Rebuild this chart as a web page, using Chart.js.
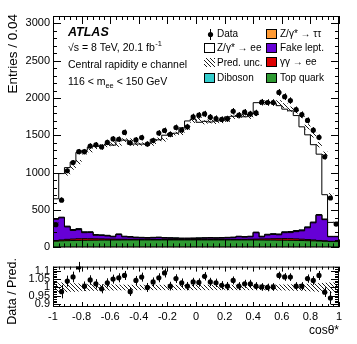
<!DOCTYPE html>
<html lang="en">
<head>
<meta charset="UTF-8">
<title>cos theta* - central electrons</title>
<script src="https://cdn.jsdelivr.net/npm/chart.js"></script>
<style>
  body { margin: 0; background: #fff; }
  #wrap { position: relative; width: 357px; height: 344px; }
  #mainBox { position: absolute; left: 0; top: 0; width: 357px; height: 257px; }
  #ratioBox { position: absolute; left: 0; top: 257px; width: 357px; height: 87px; }
</style>
</head>
<body>
<div id="wrap">
  <div id="mainBox"><canvas id="mainChart"></canvas></div>
  <div id="ratioBox"><canvas id="ratioChart"></canvas></div>
</div>
<script>
// binning in cos(theta*)
const binLow = -1;
const binWidth = 0.04;

// observed events per bin
const dataCounts = [305, 632, 1027, 1136, 1283, 1283, 1358, 1375, 1345, 1406,
  1453, 1449, 1540, 1401, 1440, 1471, 1385, 1432, 1532, 1566,
  1515, 1606, 1573, 1615, 1750, 1771, 1788, 1745, 1727, 1714,
  1723, 1824, 1771, 1811, 1788, 1802, 1945, 1941, 1941, 2076,
  2019, 1967, 1845, 1780, 1701, 1571, 1475, 1214, 662, 313];
const dataErr = [17, 25, 32, 34, 36, 36, 37, 37, 37, 37,
  38, 38, 39, 37, 38, 38, 37, 38, 39, 40,
  39, 40, 40, 40, 42, 42, 42, 42, 42, 41,
  41, 43, 42, 43, 42, 42, 44, 44, 44, 46,
  45, 44, 43, 42, 41, 40, 38, 35, 26, 18];

// predicted components (stacked bottom -> top)
const topQuark = [78, 84, 88, 90, 92, 94, 95, 96, 97, 98,
  98, 99, 99, 100, 100, 100, 100, 100, 100, 100,
  100, 100, 100, 100, 100, 100, 100, 100, 100, 100,
  100, 100, 100, 100, 100, 100, 99, 99, 98, 98,
  97, 96, 95, 94, 92, 90, 88, 85, 82, 78];
const gammaGamma = [5, 8, 12, 18, 20, 22, 22, 20, 18, 16,
  14, 12, 10, 9, 8, 8, 7, 7, 6, 6,
  6, 6, 5, 5, 5, 5, 5, 5, 6, 6,
  6, 7, 7, 8, 8, 10, 12, 14, 16, 18,
  20, 22, 22, 20, 18, 15, 12, 8, 6, 4];
const fakeLept = [57, 285, 296, 166, 115, 121, 80, 83, 47, 45,
  41, 31, 63, 33, 29, 22, 20, 17, 21, 24,
  18, 16, 15, 12, 12, 13, 15, 17, 18, 16,
  18, 20, 23, 34, 29, 32, 85, 28, 52, 57,
  52, 79, 81, 97, 112, 158, 229, 338, 284, 61];
const zTauTau = [2, 3, 3, 3, 3, 3, 3, 3, 3, 3,
  3, 3, 3, 3, 3, 3, 3, 3, 3, 3,
  3, 3, 3, 3, 3, 3, 3, 3, 3, 3,
  3, 3, 3, 3, 3, 3, 3, 3, 3, 3,
  3, 3, 3, 3, 3, 3, 3, 3, 3, 2];
const diboson = [3, 5, 6, 8, 10, 12, 10, 8, 7, 6,
  6, 5, 5, 5, 5, 5, 5, 5, 5, 5,
  5, 5, 5, 5, 5, 5, 5, 5, 5, 5,
  5, 5, 5, 5, 5, 5, 6, 6, 7, 8,
  8, 10, 12, 12, 10, 9, 8, 6, 5, 3];
const zee = [180, 266, 584, 784, 903, 1021, 1090, 1135, 1184, 1200,
  1222, 1220, 1257, 1287, 1237, 1247, 1249, 1252, 1313, 1303,
  1371, 1395, 1402, 1477, 1569, 1593, 1548, 1559, 1548, 1562,
  1577, 1615, 1619, 1622, 1605, 1638, 1734, 1791, 1759, 1753,
  1719, 1642, 1617, 1540, 1380, 1233, 1036, 809, 326, 187];

// relative prediction uncertainty
const predUnc = [0.03, 0.03, 0.028, 0.026, 0.024, 0.022, 0.02, 0.02, 0.019, 0.018,
  0.018, 0.017, 0.017, 0.016, 0.016, 0.016, 0.016, 0.016, 0.016, 0.016,
  0.016, 0.016, 0.016, 0.016, 0.016, 0.016, 0.016, 0.016, 0.016, 0.016,
  0.016, 0.016, 0.016, 0.016, 0.016, 0.016, 0.016, 0.017, 0.017, 0.018,
  0.018, 0.019, 0.02, 0.02, 0.022, 0.024, 0.026, 0.028, 0.03, 0.03];

// data / prediction
const ratioVals = [null, 0.975, 1.038, 1.063, 1.122, 1.008, 1.045, 1.022, 0.992, 1.028,
  1.05, 1.058, 1.072, 0.975, 1.042, 1.062, 1.0, 1.033, 1.058, 1.087,
  1.008, 1.053, 1.028, 1.008, 1.033, 1.03, 1.067, 1.033, 1.028, 1.013,
  1.008, 1.042, 1.008, 1.022, 1.022, 1.008, 1.003, 1.0, 1.003, 1.072,
  1.063, 1.062, 1.008, 1.008, 1.053, 1.042, 1.072, 0.972, 0.937, null];
const ratioErr = [null, 0.04, 0.033, 0.032, 0.031, 0.028, 0.028, 0.028, 0.027, 0.027,
  0.027, 0.027, 0.027, 0.026, 0.027, 0.027, 0.027, 0.027, 0.027, 0.027,
  0.026, 0.026, 0.026, 0.025, 0.025, 0.025, 0.025, 0.025, 0.025, 0.025,
  0.025, 0.024, 0.024, 0.024, 0.024, 0.024, 0.023, 0.023, 0.023, 0.023,
  0.023, 0.023, 0.024, 0.024, 0.025, 0.026, 0.027, 0.029, 0.038, null];

// axis labels
const xTickLabels = [-1, -0.8, -0.6, -0.4, -0.2, 0, 0.2, 0.4, 0.6, 0.8, 1];
const yTickLabels = [0, 500, 1000, 1500, 2000, 2500, 3000];
const ratioTickLabels = [0.9, 0.95, 1, 1.05, 1.1];

const FONT = "'Liberation Sans', Arial, Helvetica, sans-serif";
const nBins = dataCounts.length;
const edges = [];
for (let i = 0; i <= nBins; i++) edges.push(+(binLow + i * binWidth).toFixed(2));
const centers = dataCounts.map((d, i) => (edges[i] + edges[i + 1]) / 2);

const stackParts = [
  { label: 'Top quark', values: topQuark, color: '#2e9a32' },
  { label: 'γγ → ee', values: gammaGamma, color: '#dd0000' },
  { label: 'Fake lept.', values: fakeLept, color: '#6600d6' },
  { label: 'Z/γ* → ττ', values: zTauTau, color: '#ff9a33' },
  { label: 'Diboson', values: diboson, color: '#33cccc' },
  { label: 'Z/γ* → ee', values: zee, color: '#ffffff' }
];
let running = new Array(nBins).fill(0);
const stackSums = stackParts.map(p => {
  running = running.map((r, i) => r + p.values[i]);
  return running.slice();
});
const predTotal = stackSums[stackSums.length - 1];

function stepPoints(vals) {
  return edges.map((e, i) => ({ x: e, y: vals[Math.min(i, nBins - 1)] }));
}

// hatch pattern  "\\\\"
function makeHatch() {
  const c = document.createElement('canvas');
  c.width = 4; c.height = 4;
  const g = c.getContext('2d');
  g.strokeStyle = '#000';
  g.lineWidth = 0.9;
  g.beginPath();
  g.moveTo(-2, -2); g.lineTo(6, 6);
  g.moveTo(-2, 2); g.lineTo(2, 6);
  g.moveTo(2, -2); g.lineTo(6, 2);
  g.stroke();
  return c;
}
const hatchCanvas = makeHatch();

function tickList(start, end, step, majorStep, majLen, minLen) {
  const out = [];
  for (let k = 0; start + k * step <= end + 1e-9; k++) {
    const v = start + k * step;
    const q = v / majorStep;
    const major = Math.abs(q - Math.round(q)) < 1e-6;
    out.push({ v: v, len: major ? majLen : minLen });
  }
  return out;
}

function fixedTicks(list) {
  return function (s) { s.ticks = list.map(v => ({ value: v })); };
}

function drawFrame(chart, xs, ys) {
  const { ctx, chartArea: a, scales: { x, y } } = chart;
  ctx.save();
  ctx.strokeStyle = '#000';
  ctx.lineWidth = 1;
  ctx.beginPath();
  for (const t of xs) {
    const px = Math.round(x.getPixelForValue(t.v)) + 0.5;
    ctx.moveTo(px, a.bottom); ctx.lineTo(px, a.bottom - t.len);
    ctx.moveTo(px, a.top); ctx.lineTo(px, a.top + t.len);
  }
  for (const t of ys) {
    const py = Math.round(y.getPixelForValue(t.v)) + 0.5;
    ctx.moveTo(a.left, py); ctx.lineTo(a.left + t.len, py);
    ctx.moveTo(a.right, py); ctx.lineTo(a.right - t.len, py);
  }
  ctx.stroke();
  ctx.strokeRect(a.left + 0.5, a.top + 0.5, a.right - a.left - 1, a.bottom - a.top - 1);
  ctx.restore();
}

function drawBand(chart, lo, hi) {
  const { ctx, chartArea: a, scales: { x, y } } = chart;
  ctx.save();
  ctx.beginPath();
  ctx.rect(a.left, a.top, a.right - a.left, a.bottom - a.top);
  ctx.clip();
  ctx.fillStyle = ctx.createPattern(hatchCanvas, 'repeat');
  for (let i = 0; i < nBins; i++) {
    const x0 = x.getPixelForValue(edges[i]);
    const x1 = x.getPixelForValue(edges[i + 1]);
    const y0 = y.getPixelForValue(hi[i]);
    const y1 = y.getPixelForValue(lo[i]);
    ctx.fillRect(x0, y0, x1 - x0, y1 - y0);
  }
  ctx.restore();
}

function drawErrors(chart, vals, errs) {
  const { ctx, scales: { x, y } } = chart;
  ctx.save();
  ctx.strokeStyle = '#000';
  ctx.lineWidth = 1;
  ctx.beginPath();
  vals.forEach((v, i) => {
    if (v === null) return;
    const px = Math.round(x.getPixelForValue(centers[i])) + 0.5;
    ctx.moveTo(px, y.getPixelForValue(v - errs[i]));
    ctx.lineTo(px, y.getPixelForValue(v + errs[i]));
  });
  ctx.stroke();
  ctx.restore();
}

function legendBox(ctx, x, y, fill) {
  ctx.fillStyle = fill;
  ctx.fillRect(x, y, 11, 10);
  ctx.strokeStyle = '#000';
  ctx.lineWidth = 1;
  ctx.strokeRect(x + 0.5, y + 0.5, 10, 9);
}

const mainDecor = {
  id: 'mainDecor',
  beforeDatasetDraw(chart, args) {
    if (args.index !== 0) return;
    drawBand(chart, predTotal.map((p, i) => p * (1 - predUnc[i])), predTotal.map((p, i) => p * (1 + predUnc[i])));
    drawErrors(chart, dataCounts, dataErr);
  },
  afterDraw(chart) {
    drawFrame(chart, tickList(-1, 1, 0.04, 0.2, 8, 4), tickList(0, 3100, 100, 500, 8, 4));
    const ctx = chart.ctx;
    ctx.save();
    ctx.fillStyle = '#000';
    ctx.textBaseline = 'alphabetic';
    ctx.textAlign = 'left';

    // y title
    ctx.save();
    ctx.translate(17, 14);
    ctx.rotate(-Math.PI / 2);
    ctx.textAlign = 'right';
    ctx.font = '13.5px ' + FONT;
    ctx.fillText('Entries / 0.04', 0, 0);
    ctx.restore();

    // labels
    ctx.font = 'italic bold 12.5px ' + FONT;
    ctx.fillText('ATLAS', 68, 36);
    ctx.font = '10.5px ' + FONT;
    let s = '√s = 8 TeV, 20.1 fb';
    ctx.fillText(s, 68, 51);
    let w = ctx.measureText(s).width;
    ctx.font = '7.5px ' + FONT;
    ctx.fillText('-1', 68 + w + 0.5, 46);
    ctx.font = '10.5px ' + FONT;
    ctx.fillText('Central rapidity e channel', 68, 68);
    s = '116 < m';
    ctx.fillText(s, 68, 85);
    w = ctx.measureText(s).width;
    ctx.font = '7.5px ' + FONT;
    ctx.fillText('ee', 68 + w, 88);
    const w2 = ctx.measureText('ee').width;
    ctx.font = '10.5px ' + FONT;
    ctx.fillText(' < 150 GeV', 68 + w + w2, 85);

    // legend
    ctx.font = '10px ' + FONT;
    ctx.textBaseline = 'middle';
    ctx.beginPath();
    ctx.moveTo(210.5, 29); ctx.lineTo(210.5, 40);
    ctx.strokeStyle = '#000'; ctx.lineWidth = 1; ctx.stroke();
    ctx.beginPath();
    ctx.arc(210.5, 34.5, 2.6, 0, Math.PI * 2);
    ctx.fill();
    ctx.fillText('Data', 217, 34.5);
    legendBox(ctx, 204, 43, stackParts[5].color);
    ctx.fillStyle = '#000';
    ctx.fillText(stackParts[5].label, 217, 48.5);
    ctx.fillStyle = ctx.createPattern(hatchCanvas, 'repeat');
    ctx.fillRect(204, 58, 11, 9);
    ctx.fillStyle = '#000';
    ctx.fillText('Pred. unc.', 217, 63);
    legendBox(ctx, 204, 73, stackParts[4].color);
    ctx.fillStyle = '#000';
    ctx.fillText(stackParts[4].label, 217, 78.5);

    const col2 = [3, 2, 1, 0];
    col2.forEach((k, r) => {
      const yy = [29, 43, 57, 73][r];
      legendBox(ctx, 266, yy, stackParts[k].color);
      ctx.fillStyle = '#000';
      ctx.fillText(stackParts[k].label, 280, yy + 5.5);
    });
    ctx.restore();
  }
};

const histSets = stackParts.map((p, k) => ({
  type: 'line',
  label: p.label,
  data: stepPoints(stackSums[k]),
  stepped: 'after',
  borderColor: '#000',
  borderWidth: 1,
  backgroundColor: p.color,
  fill: 'origin',
  pointRadius: 0,
  order: k + 1
}));

const dataSet = {
  type: 'line',
  label: 'Data',
  data: centers.map((c, i) => ({ x: c, y: dataCounts[i] })),
  showLine: false,
  pointRadius: 2.6,
  pointBackgroundColor: '#000',
  pointBorderColor: '#000',
  pointBorderWidth: 0,
  order: 0
};

new Chart(document.getElementById('mainChart'), {
  type: 'line',
  data: { datasets: [dataSet].concat(histSets) },
  options: {
    animation: false,
    responsive: true,
    maintainAspectRatio: false,
    layout: { padding: { left: 0, right: 18, top: 16, bottom: 4 } },
    plugins: { legend: { display: false }, tooltip: { enabled: false } },
    scales: {
      x: { type: 'linear', min: -1, max: 1, display: false },
      y: {
        type: 'linear', min: 0, max: 3100,
        afterBuildTicks: fixedTicks(yTickLabels),
        ticks: {
          autoSkip: false, padding: 3, color: '#000',
          font: { family: FONT, size: 11 },
          callback: v => String(v)
        },
        grid: { display: false, drawTicks: false },
        border: { display: false },
        afterFit(s) { s.width = 53; }
      }
    }
  },
  plugins: [mainDecor]
});

const ratioDecor = {
  id: 'ratioDecor',
  beforeDatasetsDraw(chart) {
    drawBand(chart, predUnc.map(u => 1 - u), predUnc.map(u => 1 + u));
    drawErrors(chart, ratioVals, ratioErr);
  },
  afterDraw(chart) {
    drawFrame(chart, tickList(-1, 1, 0.04, 0.2, 5, 3), tickList(0.89, 1.12, 0.01, 0.05, 8, 4));
    const ctx = chart.ctx;
    ctx.save();
    ctx.fillStyle = '#000';
    ctx.translate(16, 1);
    ctx.rotate(-Math.PI / 2);
    ctx.textAlign = 'right';
    ctx.font = '12.5px ' + FONT;
    ctx.fillText('Data / Pred.', 0, 0);
    ctx.restore();
    ctx.save();
    ctx.fillStyle = '#000';
    ctx.textAlign = 'right';
    ctx.font = '12px ' + FONT;
    ctx.fillText('cosθ*', 339, 77);
    ctx.restore();
  }
};

new Chart(document.getElementById('ratioChart'), {
  type: 'line',
  data: {
    datasets: [{
      label: 'Data / Pred.',
      data: centers.map((c, i) => ({ x: c, y: ratioVals[i] })),
      showLine: false,
      pointRadius: 2.6,
      pointBackgroundColor: '#000',
      pointBorderColor: '#000',
      pointBorderWidth: 0
    }]
  },
  options: {
    animation: false,
    responsive: true,
    maintainAspectRatio: false,
    layout: { padding: { left: 0, right: 18, top: 1, bottom: 0 } },
    plugins: { legend: { display: false }, tooltip: { enabled: false } },
    scales: {
      x: {
        type: 'linear', min: -1, max: 1,
        afterBuildTicks: fixedTicks(xTickLabels),
        ticks: {
          autoSkip: false, maxRotation: 0, padding: 3, color: '#000',
          font: { family: FONT, size: 11 },
          callback: v => String(v)
        },
        grid: { display: false, drawTicks: false },
        border: { display: false },
        afterFit(s) { s.height = 37; }
      },
      y: {
        type: 'linear', min: 0.883, max: 1.125,
        afterBuildTicks: fixedTicks(ratioTickLabels),
        ticks: {
          autoSkip: false, padding: 3, color: '#000',
          font: { family: FONT, size: 11 },
          callback: v => String(v)
        },
        grid: { display: false, drawTicks: false },
        border: { display: false },
        afterFit(s) { s.width = 53; }
      }
    }
  },
  plugins: [ratioDecor]
});
</script>
</body>
</html>
